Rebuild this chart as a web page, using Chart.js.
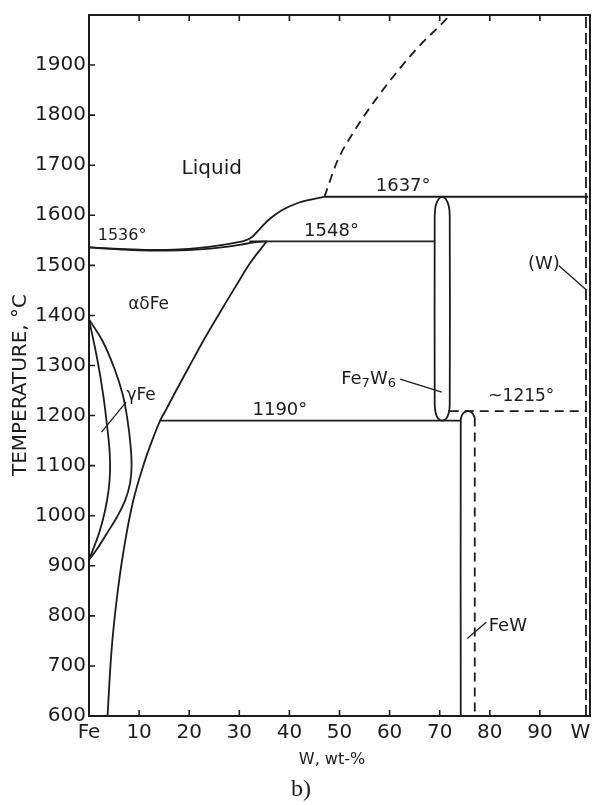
<!DOCTYPE html>
<html>
<head>
<meta charset="utf-8">
<script src="https://cdn.jsdelivr.net/npm/chart.js@4"></script>
<style>
  body { margin: 0; background: #fff; }
  canvas { display: block; }
</style>
</head>
<body>
<canvas id="diagram" width="594" height="805"></canvas>
<script>
// Fe-W phase diagram, values as [W wt-%, temperature °C]
const wtTicks = [0, 10, 20, 30, 40, 50, 60, 70, 80, 90, 100];
const wtLabels = ['Fe', '10', '20', '30', '40', '50', '60', '70', '80', '90', 'W'];
const tempTicks = [600, 700, 800, 900, 1000, 1100, 1200, 1300, 1400, 1500, 1600, 1700, 1800, 1900];

const liquidus = [[0,1536],[6,1533],[12,1531],[18,1532],[22,1535],[26,1540],[29,1545],[31,1549],[32.5,1556],[34,1572],[36,1592],[38.5,1610],[41.8,1625],[44.5,1632],[47,1637]];
const deltaSolidus = [[0,1536],[6,1532],[12,1529.5],[18,1530],[22,1532],[26,1535.5],[30,1541],[33,1546],[35.5,1548]];
const liquidusDashed = [[47,1637],[49.6,1709],[53,1769],[57,1828],[61.6,1888],[66.2,1941],[71.6,1995],[72,2000]];
const peritectic1548 = [[32,1548],[69,1548]];
const peritectic1637 = [[47,1637],[99.6,1637]];
const eutectoid1190 = [[14.2,1190],[74.2,1190]];
const line1215 = [[72,1209],[99.2,1209]];
const alphaSolvus = [[35.5,1548],[32.4,1508],[29.1,1455],[25.9,1402],[22.8,1349],[19.9,1296],[17.4,1250],[15.5,1214],[14.2,1190],[12.9,1158],[11.1,1108],[8.8,1029],[6.9,930],[5.5,830],[4.5,731],[3.7,600]];
const gammaInner = [[0,1392],[1.7,1310],[2.8,1244],[3.6,1180],[4.1,1130],[4.2,1090],[3.9,1050],[3.2,1010],[2.0,965],[0,912]];
const gammaOuter = [[0,1392],[2.7,1349],[5.0,1296],[6.7,1243],[7.7,1190],[8.3,1140],[8.5,1100],[8.2,1065],[7.2,1030],[5.5,996],[3.4,962],[1.5,932],[0,912]];
const fe7w6 = [[69,1600],[69.2,1619],[69.75,1632],[70.5,1637],[71.25,1632],[71.8,1619],[72,1600],[72,1222],[71.8,1205],[71.3,1194],[70.5,1190],[69.7,1194],[69.2,1205],[69,1222],[69,1600]];
const fewSolid = [[74.2,600],[74.2,1190],[74.4,1200],[75,1207],[75.8,1209],[76.5,1205],[77,1196]];
const fewDashed = [[77,1196],[77,600]];
const wSolvus = [[99.2,600],[99.2,2000]];

const leaders = [
  [[2.5,1167],[7.4,1227]],
  [[62.1,1273],[70.4,1247]],
  [[93.8,1499],[99.3,1451]],
  [[75.5,755],[79.3,787]]
];

const notes = [
  ['Liquid', 24.5, 1693, 20],
  ['1536°', 6.6, 1558, 16],
  ['1548°', 48.4, 1568, 18],
  ['1637°', 62.7, 1657, 18],
  ['αδFe', 11.9, 1422, 17],
  ['γFe', 10.4, 1240, 17],
  ['1190°', 38.1, 1211, 18],
  ['~1215°', 86.3, 1237, 17],
  ['(W)', 90.8, 1503, 18],
  ['FeW', 83.6, 780, 18]
];

const INK = '#1c1c1c';
const FONT = '"DejaVu Sans", sans-serif';
const DASH = [9, 6];

function line(points, extra) {
  return Object.assign({
    data: points.map(([x, y]) => ({ x, y })),
    showLine: true,
    pointRadius: 0,
    borderColor: INK,
    borderWidth: 1.8,
    tension: 0,
    fill: false
  }, extra || {});
}

const datasets = [
  line(liquidus, { cubicInterpolationMode: 'monotone' }),
  line(deltaSolidus, { cubicInterpolationMode: 'monotone' }),
  line(liquidusDashed, { cubicInterpolationMode: 'monotone', borderDash: DASH }),
  line(peritectic1548),
  line(peritectic1637),
  line(eutectoid1190),
  line(line1215, { borderDash: DASH }),
  line(alphaSolvus, { tension: 0.4 }),
  line(gammaInner, { tension: 0.4 }),
  line(gammaOuter, { tension: 0.4 }),
  line(fe7w6, { tension: 0.3 }),
  line(fewSolid, { tension: 0.3 }),
  line(fewDashed, { borderDash: DASH }),
  line(wSolvus, { borderDash: [11, 5] })
];
leaders.forEach(l => datasets.push(line(l, { borderWidth: 1.3 })));

const extras = {
  id: 'extras',
  afterDraw(chart) {
    const { ctx, chartArea: a, scales: { x, y } } = chart;
    ctx.save();
    ctx.strokeStyle = INK;
    ctx.fillStyle = INK;
    ctx.lineWidth = 2;
    ctx.strokeRect(a.left, a.top, a.right - a.left, a.bottom - a.top);

    // tick marks point into the plot
    ctx.lineWidth = 1.6;
    ctx.beginPath();
    wtTicks.slice(1, -1).forEach(v => {
      const px = x.getPixelForValue(v);
      ctx.moveTo(px, a.bottom); ctx.lineTo(px, a.bottom - 6);
      ctx.moveTo(px, a.top); ctx.lineTo(px, a.top + 6);
    });
    tempTicks.slice(1).forEach(v => {
      const py = y.getPixelForValue(v);
      ctx.moveTo(a.left, py); ctx.lineTo(a.left + 6, py);
    });
    ctx.stroke();

    ctx.textAlign = 'center';
    ctx.textBaseline = 'middle';
    notes.forEach(([txt, w, t, size]) => {
      ctx.font = size + 'px ' + FONT;
      ctx.fillText(txt, x.getPixelForValue(w), y.getPixelForValue(t));
    });

    // Fe7W6 with subscripts
    const parts = [['Fe', 18, 0], ['7', 13, 5], ['W', 18, 0], ['6', 13, 5]];
    let total = 0;
    parts.forEach(p => { ctx.font = p[1] + 'px ' + FONT; total += ctx.measureText(p[0]).width; });
    let cx = x.getPixelForValue(55.8) - total / 2;
    const cy = y.getPixelForValue(1273);
    ctx.textAlign = 'left';
    parts.forEach(p => {
      ctx.font = p[1] + 'px ' + FONT;
      ctx.fillText(p[0], cx, cy + p[2]);
      cx += ctx.measureText(p[0]).width;
    });

    // axis titles and caption
    ctx.textAlign = 'center';
    ctx.font = '16px ' + FONT;
    ctx.fillText('W, wt-%', 332, 760);
    ctx.font = '24px "Liberation Serif", serif';
    ctx.fillText('b)', 301, 790);
    ctx.translate(21, 385);
    ctx.rotate(-Math.PI / 2);
    ctx.font = '20px ' + FONT;
    ctx.fillText('TEMPERATURE, °C', 0, 0);
    ctx.restore();
  }
};

new Chart(document.getElementById('diagram'), {
  type: 'scatter',
  data: { datasets },
  options: {
    responsive: false,
    animation: false,
    devicePixelRatio: 1,
    layout: { padding: { left: 29, right: 4, top: 12, bottom: 0 } },
    plugins: { legend: { display: false }, tooltip: { enabled: false } },
    scales: {
      x: {
        type: 'linear', min: 0, max: 100,
        afterBuildTicks: s => { s.ticks = wtTicks.map(v => ({ value: v })); },
        afterFit: s => { s.height = 89; s.paddingLeft = 0; s.paddingRight = 0; },
        grid: { display: false, drawTicks: false },
        border: { display: false },
        ticks: {
          padding: 5, color: INK, maxRotation: 0, autoSkip: false,
          font: { family: 'DejaVu Sans', size: 20 },
          // last label sits inside the right edge, as in the original
          callback: (v, i) => i === wtLabels.length - 1 ? wtLabels[i] + '   ' : wtLabels[i]
        }
      },
      y: {
        type: 'linear', min: 600, max: 2000,
        afterBuildTicks: s => { s.ticks = tempTicks.map(v => ({ value: v })); },
        afterFit: s => { s.width = 60; },
        grid: { display: false, drawTicks: false },
        border: { display: false },
        ticks: {
          padding: 3, color: INK, autoSkip: false,
          font: { family: 'DejaVu Sans', size: 20 },
          callback: v => String(v)
        }
      }
    }
  },
  plugins: [extras]
});
</script>
</body>
</html>
